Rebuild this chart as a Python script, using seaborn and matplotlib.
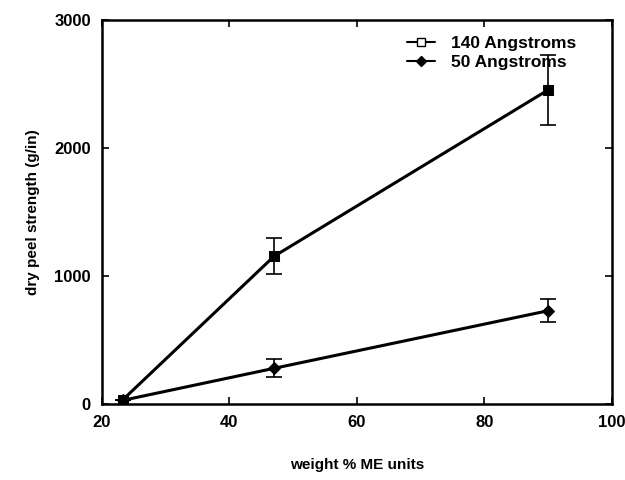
import numpy as np
import pandas as pd
import seaborn as sns
import matplotlib.pyplot as plt
from matplotlib.lines import Line2D

# data
weight_pct = [23.3, 47, 90]
peel_140 = [35, 1155, 2455]
err_140 = [0, 140, 275]
peel_50 = [30, 280, 730]
err_50 = [0, 70, 90]

df = pd.DataFrame({
    "weight": weight_pct * 2,
    "peel": peel_140 + peel_50,
    "err": err_140 + err_50,
    "series": ["140 Angstroms"] * 3 + ["50 Angstroms"] * 3,
})

sns.set_style("ticks")
plt.rcParams["font.family"] = ["Liberation Sans", "DejaVu Sans"]
plt.rcParams["font.weight"] = "bold"
plt.rcParams["text.color"] = "black"
plt.rcParams["axes.labelcolor"] = "black"
plt.rcParams["xtick.color"] = "black"
plt.rcParams["ytick.color"] = "black"

fig = plt.figure(figsize=(6.25, 4.8), dpi=100)
ax = fig.add_axes([0.163, 0.158, 0.816, 0.8])

sns.lineplot(data=df, x="weight", y="peel", hue="series", style="series",
             markers={"140 Angstroms": "s", "50 Angstroms": "D"},
             dashes=False, palette=["black", "black"], linewidth=2.2,
             markersize=6.5, markeredgecolor="black", legend=False, ax=ax)

for name, sub in df.groupby("series"):
    ax.errorbar(sub["weight"], sub["peel"], yerr=sub["err"], fmt="none",
                ecolor="black", elinewidth=1.2, capsize=6, capthick=1.2)

ax.set_xlim(20, 100)
ax.set_ylim(0, 3000)
ax.set_xticks([20, 40, 60, 80, 100])
ax.set_yticks([0, 1000, 2000, 3000])
ax.tick_params(direction="in", length=5, width=1.2, top=True, right=True,
               labelsize=12, pad=8, colors="black")
for lbl in ax.get_xticklabels() + ax.get_yticklabels():
    lbl.set_fontweight("bold")
for sp in ax.spines.values():
    sp.set_linewidth(1.8)
    sp.set_color("black")

ax.set_xlabel("weight % ME units", fontsize=11, fontweight="bold", labelpad=20)
ax.set_ylabel("dry peel strength (g/in)", fontsize=11, fontweight="bold", labelpad=10)

handles = [
    Line2D([], [], color="black", lw=1.5, marker="s", markerfacecolor="white",
           markeredgecolor="black", markersize=6),
    Line2D([], [], color="black", lw=1.5, marker="D", markerfacecolor="black",
           markersize=5.5),
]
ax.legend(handles, ["140 Angstroms", "50 Angstroms"], loc="upper right",
          bbox_to_anchor=(0.96, 1.0), frameon=False, fontsize=12.5,
          handlelength=1.6, handletextpad=0.9, labelspacing=0.25)

fig.savefig("out.png", dpi=100)
